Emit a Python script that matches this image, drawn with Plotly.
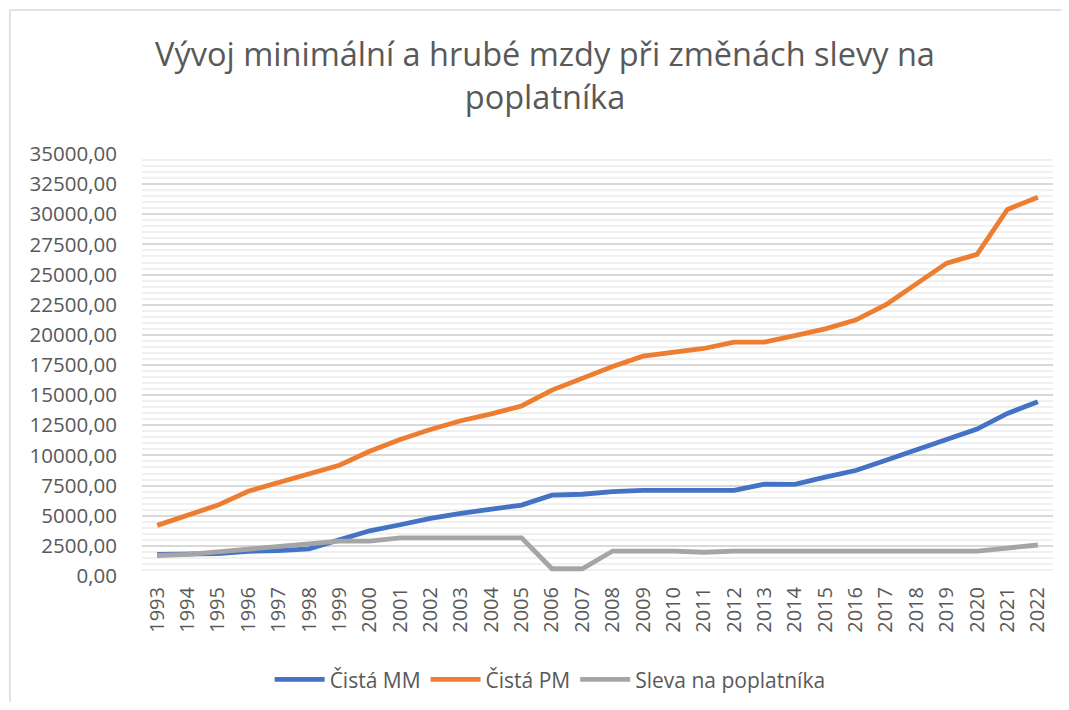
import plotly.graph_objects as go

years = [str(y) for y in range(1993, 2023)]

cista_mm = [1800, 1850, 1850, 2050, 2100, 2250, 3050, 3750, 4250, 4780,
            5200, 5550, 5880, 6700, 6780, 7000, 7100, 7100, 7100, 7100,
            7620, 7600, 8200, 8750, 9600, 10450, 11300, 12180, 13480, 14450]

cista_pm = [4200, 5000, 5880, 7030, 7780, 8440, 9190, 10350, 11330, 12150,
            12880, 13450, 14100, 15420, 16380, 17380, 18230, 18550, 18870, 19400,
            19400, 19930, 20500, 21230, 22500, 24230, 25950, 26680, 30400, 31420]

sleva = [1700, 1800, 2000, 2200, 2400, 2650, 2890, 2890, 3170, 3170,
         3170, 3170, 3170, 600, 600, 2070, 2070, 2070, 1970, 2070,
         2070, 2070, 2070, 2070, 2070, 2070, 2070, 2070, 2320, 2570]

series_names = ['Čistá MM', 'Čistá PM', 'Sleva na poplatníka']
colors = ['#4472C4', '#ED7D31', '#A5A5A5']

FONT = 'Open Sans'
TXT = '#595959'

fig = go.Figure()
for name, vals, col in zip(series_names, [cista_mm, cista_pm, sleva], colors):
    fig.add_trace(go.Scatter(
        x=years, y=vals, name=name, mode='lines',
        line=dict(color=col, width=4.8),
    ))

# chart frame: only its top and left edges are inside the picture
frame = dict(color='#d9d9d9', width=1.5)
fig.add_shape(type='line', xref='paper', yref='paper',
              x0=-0.145, x1=1.1, y0=1.341, y1=1.341, line=frame, layer='below')
fig.add_shape(type='line', xref='paper', yref='paper',
              x0=-0.145, x1=-0.145, y0=-0.4, y1=1.341, line=frame, layer='below')

# page body keeps its default 8px margin, so the figure is 16px smaller
fig.update_layout(
    width=1053, height=694,
    paper_bgcolor='white', plot_bgcolor='white',
    margin=dict(l=134, r=8, t=146, b=126, autoexpand=False),
    separators=', ',
    font=dict(family=FONT, color=TXT),
    title=dict(
        text='Vývoj minimální a hrubé mzdy při změnách slevy na<br>poplatníka',
        x=0.510, xanchor='center', xref='container',
        y=0.916, yanchor='top', yref='container',
        font=dict(family=FONT, size=32.5, color=TXT),
    ),
    showlegend=True,
    legend=dict(
        orientation='h', x=0.448, xanchor='center', y=-0.246, yanchor='middle',
        font=dict(family=FONT, size=21, color=TXT),
        bgcolor='rgba(0,0,0,0)', itemwidth=50,
    ),
    xaxis=dict(
        type='category', range=[-0.5, 29.5], automargin=False,
        tickangle=-90, tickfont=dict(size=20, color=TXT),
        showgrid=False, showline=False, zeroline=False,
        ticks='outside', ticklen=2, tickcolor='rgba(0,0,0,0)',
    ),
    yaxis=dict(
        range=[0, 35000], dtick=2500, tick0=0, automargin=False,
        tickformat='.2f',
        tickfont=dict(size=20.5, color=TXT),
        showgrid=True, gridcolor='#d9d9d9', gridwidth=1.5,
        zeroline=False, showline=False,
        ticks='outside', ticklen=20, tickcolor='rgba(0,0,0,0)',
        minor=dict(dtick=500, showgrid=True, gridcolor='#f0f0f0', gridwidth=1.5),
    ),
)

fig.write_html('out.html')
